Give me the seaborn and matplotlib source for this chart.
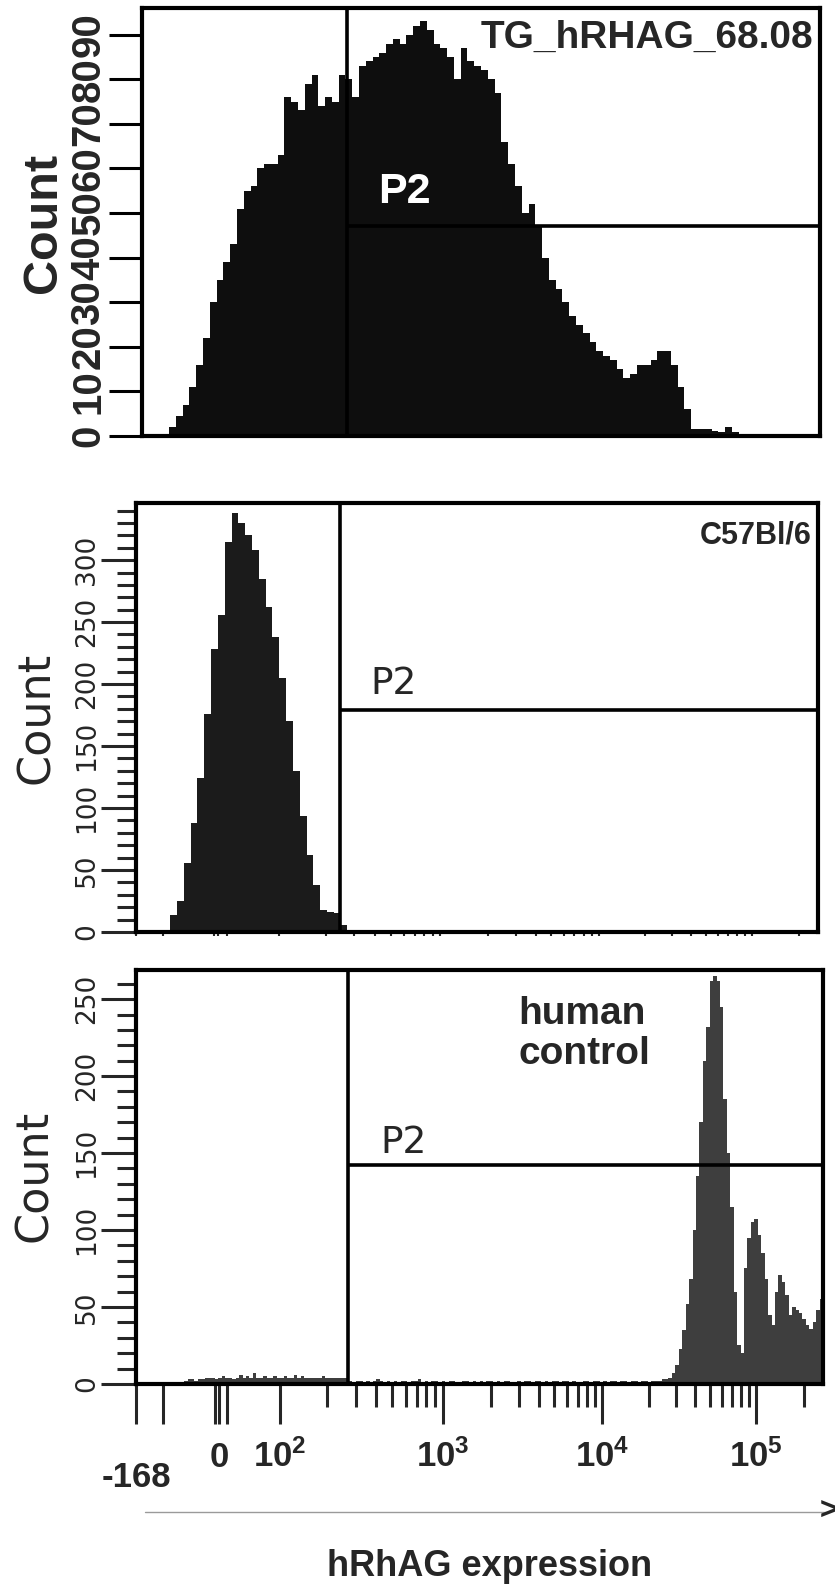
import numpy as np
import pandas as pd
import matplotlib
matplotlib.use("Agg")
import matplotlib.pyplot as plt
import seaborn as sns
from matplotlib.lines import Line2D

# ---- data: counts per channel bin (channel axis runs 0..1000 across each panel) ----
tg_counts = [0, 0, 0, 0.5, 2, 4.5, 7, 11, 16, 22,
             30, 35, 39, 43, 51, 55, 56, 60, 61, 61,
             63, 76, 75, 73, 79, 81, 74, 76, 75, 81,
             80, 76, 83, 84, 85, 86, 88, 89, 88, 90,
             92, 93, 91, 88, 87, 85, 80, 87, 84, 83,
             82, 80, 77, 66, 61, 56, 50, 52, 47, 40,
             35, 33, 30, 27, 25, 23, 21, 19, 18, 17,
             15, 13, 14, 16, 16, 17, 19, 19, 16, 11,
             6, 1.5, 1.5, 1.5, 1.2, 1, 2, 0.8, 0, 0,
             0, 0, 0, 0, 0, 0, 0, 0, 0, 0]

b6_counts = [0, 0, 0, 0, 2, 14, 25, 56, 88, 124,
             176, 228, 256, 315, 338, 330, 320, 308, 285, 262,
             238, 205, 170, 130, 94, 62, 38, 18, 16, 15,
             6, 2, 1] + [0] * 67

hu_counts = ([0] * 14
             + [2, 3, 3, 2, 3, 3, 4]
             + [4, 4, 3, 4, 5, 4, 4, 3, 4, 6]
             + [4, 5, 4, 7, 4, 4, 5, 4, 4, 5]
             + [4, 4, 5, 4, 4, 6, 4, 5, 4, 4]
             + [4, 4, 4, 5, 4, 4, 4, 4, 4, 4, 4]
             + [2, 1, 2, 2, 1, 2, 1, 2, 3, 2,
                1, 2, 1, 2, 1, 2, 2, 1, 2, 2,
                3, 1, 2, 1, 2, 2, 1, 2, 1, 2,
                2, 1, 1, 2, 2, 1, 2, 1, 2, 1,
                2, 2, 1, 2, 1, 2, 2, 1, 1, 2,
                1, 2, 2, 1, 2, 2, 1, 2, 1, 2,
                2, 1, 2, 2, 1, 2, 1, 1, 2, 2,
                1, 2, 2, 1, 2, 1, 2, 2, 1, 2,
                2, 1, 2, 2, 1, 2, 2, 1, 2, 2,
                2, 3]
             + [3, 4, 7, 12, 23, 35, 52, 68, 100, 135,
                170, 210, 232, 262, 265, 262, 245, 185, 150, 115,
                60, 25, 20, 75, 95, 105, 107, 97, 85, 68,
                45, 38, 60, 71, 66, 58, 45, 50, 48, 46,
                42, 38, 36, 40, 48, 55])

sample_names = ["TG_hRHAG_68.08", "C57Bl/6", "human\ncontrol"]
fill_colors = ["#0e0e0e", "#1b1b1b", "#3e3e3e"]
gate_x = [302, 299, 309]      # P2 gate start (channel)
gate_y = [47, 179, 142]       # P2 marker height (count)
y_max = [96, 346, 269]

# logicle axis: value -> channel anchors
axis_vals = [-168, -100, 0, 100, 1000, 10000, 100000, 262144]
axis_chan = [0, 39.3, 120.6, 209.3, 446.2, 678.8, 902.6, 1000]
major_vals = [-168, -100, -5, 0, 10, 100, 1000, 10000, 100000]
minor_vals = ([k * 100 for k in range(2, 10)] + [k * 1000 for k in range(2, 10)]
              + [k * 10000 for k in range(2, 10)] + [200000])
label_vals = [-168, 0, 100, 1000, 10000, 100000]
label_text = ["-168", "0", r"$\mathregular{10^2}$", r"$\mathregular{10^3}$",
              r"$\mathregular{10^4}$", r"$\mathregular{10^5}$"]


def to_chan(v):
    v = np.asarray(v, dtype=float)
    return np.interp(np.arcsinh(v / 50), np.arcsinh(np.array(axis_vals) / 50), axis_chan)


def draw_hist(ax, counts, color):
    n = len(counts)
    edges = np.linspace(0, 1000, n + 1)
    df = pd.DataFrame({"channel": (edges[:-1] + edges[1:]) / 2,
                       "count": np.asarray(counts, dtype=float)})
    sns.histplot(data=df, x="channel", weights="count", bins=edges.tolist(),
                 element="step", fill=True, color=color, alpha=1, linewidth=0, ax=ax)


sns.set_style("white")
plt.rcParams["font.family"] = ["Liberation Sans", "DejaVu Sans"]

fig = plt.figure(figsize=(8.35, 15.9), dpi=100)
ax1 = fig.add_axes([0.1701, 0.7258, 0.8120, 0.2692])
ax2 = fig.add_axes([0.1629, 0.4138, 0.8168, 0.2698])
ax3 = fig.add_axes([0.1629, 0.1296, 0.8228, 0.2604])
axes = [ax1, ax2, ax3]

for i, (ax, counts) in enumerate(zip(axes, [tg_counts, b6_counts, hu_counts])):
    draw_hist(ax, counts, fill_colors[i])
    ax.set_xlabel("")
    ax.set_ylabel("")
    ax.axvline(gate_x[i], color="black", lw=2.6)
    ax.hlines(gate_y[i], gate_x[i], 1000, color="black", lw=2.6)
    for s in ax.spines.values():
        s.set_visible(True)
        s.set_color("black")
        s.set_linewidth(3)

# y axes
ax1.set_yticks(range(0, 91, 10))
ax1.set_yticklabels([str(v) for v in range(0, 91, 10)], rotation=90, va="center",
                    fontsize=29, fontweight="bold", family="Liberation Sans")
ax1.tick_params(axis="y", left=True, length=24, width=2.2, pad=1, color="black")

for ax, top in [(ax2, 300), (ax3, 250)]:
    ax.set_yticks(range(0, top + 1, 50))
    ax.set_yticks(range(0, top + 41, 10), minor=True)
    ax.set_yticklabels([str(v) for v in range(0, top + 1, 50)], rotation=90, va="center",
                       fontsize=19, family="DejaVu Sans")
    ax.tick_params(axis="y", which="major", left=True, length=25, width=2.2, pad=1)
    ax.tick_params(axis="y", which="minor", left=True, length=14, width=2.2)

# x axes
ax1.set_xticks([])
ax2.set_xticks(to_chan(major_vals))
ax2.set_xticks(to_chan(minor_vals), minor=True)
ax2.set_xticklabels([])
ax2.tick_params(axis="x", which="both", bottom=True, length=3, width=1.5)

ax3.set_xticks(to_chan(major_vals))
ax3.set_xticks(to_chan(minor_vals), minor=True)
ax3.set_xticklabels([])
ax3.tick_params(axis="x", which="major", bottom=True, length=29, width=2.2)
ax3.tick_params(axis="x", which="minor", bottom=True, length=16.5, width=2.2)

# limits last, so the tick setters cannot widen them
for i, ax in enumerate(axes):
    ax.set_xlim(0, 1000)
    ax.set_ylim(0, y_max[i])

for v, t in zip(label_vals, label_text):
    yb = -0.249 if v < 0 else -0.2005
    ax3.text(float(to_chan(v)), yb, t, transform=ax3.get_xaxis_transform(),
             ha="center", va="baseline", fontsize=25, fontweight="bold",
             family="Liberation Sans")

# sample labels and gate names
ax1.text(0.99, 0.93, sample_names[0], transform=ax1.transAxes, ha="right", va="center",
         fontsize=28, fontweight="bold", family="Liberation Sans")
ax1.text(0.348, 0.570, "P2", transform=ax1.transAxes, ha="left", va="center",
         fontsize=31, fontweight="bold", color="white", family="Liberation Sans")
ax2.text(0.991, 0.925, sample_names[1], transform=ax2.transAxes, ha="right", va="center",
         fontsize=22, fontweight="bold", family="Liberation Sans")
ax2.text(0.343, 0.578, "P2", transform=ax2.transAxes, ha="left", va="center",
         fontsize=27, family="DejaVu Sans")
ax3.text(0.556, 0.937, sample_names[2], transform=ax3.transAxes, ha="left", va="top",
         fontsize=28, fontweight="bold", family="Liberation Sans", linespacing=1.15)
ax3.text(0.355, 0.582, "P2", transform=ax3.transAxes, ha="left", va="center",
         fontsize=27, family="DejaVu Sans")

# y labels
fig.text(43 / 835, 1 - 223 / 1590, "Count", rotation=90, ha="center", va="center",
         fontsize=35, fontweight="bold", family="Liberation Sans")
fig.text(36 / 835, 1 - 718 / 1590, "Count", rotation=90, ha="center", va="center",
         fontsize=32, family="DejaVu Sans")
fig.text(34 / 835, 1 - 1176 / 1590, "Count", rotation=90, ha="center", va="center",
         fontsize=32, family="DejaVu Sans")

# x-axis arrow and title
fig.add_artist(Line2D([145 / 835, 826 / 835], [1 - 1512 / 1590] * 2, color="#9a9a9a", lw=1))
fig.text(1.003, 1 - 1512 / 1590, ">", ha="right", va="center", fontsize=22,
         fontweight="bold", family="Liberation Sans")
fig.text(490 / 835, 1 - 1567 / 1590, "hRhAG expression", ha="center", va="center",
         fontsize=26, fontweight="bold", family="Liberation Sans")

fig.savefig("out.png", dpi=100, facecolor="white")
